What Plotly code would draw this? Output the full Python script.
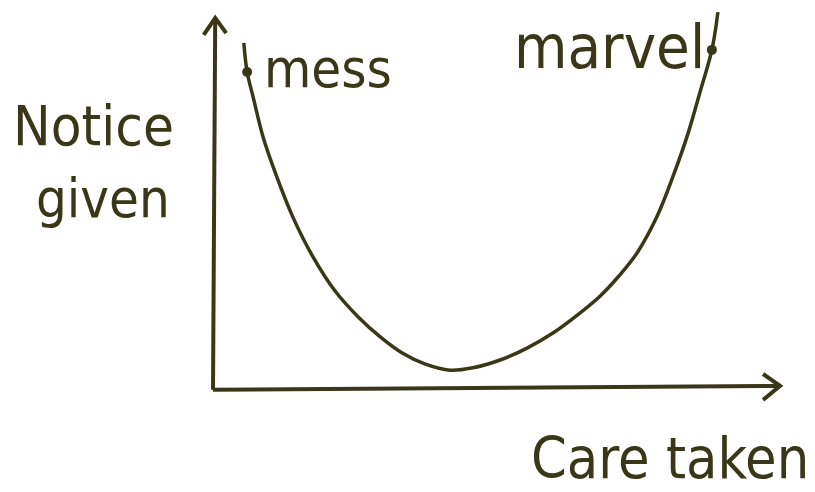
import plotly.graph_objects as go

# Sketch of "notice given" versus "care taken": a U-shaped curve
care_taken = [0.56, 0.62, 0.73, 0.91, 1.16, 1.45, 1.82, 2.22, 2.64, 3.04, 3.44,
              3.85, 4.31, 4.73, 5.22, 5.71, 6.18, 6.67, 7.04, 7.38, 7.71, 8.07,
              8.36, 8.64, 8.85, 9.07, 9.18]
notice_given = [9.86, 9.03, 8.31, 7.17, 6.03, 4.89, 3.74, 2.77, 2.03, 1.46, 1.0,
                0.69, 0.51, 0.58, 0.8, 1.14, 1.57, 2.14, 2.63, 3.2, 3.86, 4.89,
                6.03, 7.29, 8.43, 9.66, 10.74]

# Labelled points on the curve
point_labels = ["mess", "marvel"]
point_care = [0.62, 9.07]
point_notice = [9.03, 9.66]

x_title = "Care taken"
y_title = ["Notice", "given"]

INK = "rgb(58,55,25)"
FONT = "DejaVu Sans Condensed, Liberation Sans Narrow, sans-serif"

X_END = 10.31   # tip of the horizontal arrow
Y_END = 10.57   # tip of the vertical arrow

fig = go.Figure()

# Axis lines with open chevron arrowheads
axis_line = dict(color=INK, width=4)
fig.add_trace(go.Scatter(x=[0, 0.04], y=[-0.05, Y_END], mode="lines",
                         line=axis_line, hoverinfo="skip"))
fig.add_trace(go.Scatter(x=[0.04 - 0.21, 0.04, 0.04 + 0.2],
                         y=[Y_END - 0.48, Y_END, Y_END - 0.43], mode="lines",
                         line=axis_line, hoverinfo="skip"))
fig.add_trace(go.Scatter(x=[0, X_END], y=[-0.05, 0.06], mode="lines",
                         line=axis_line, hoverinfo="skip"))
fig.add_trace(go.Scatter(x=[X_END - 0.31, X_END, X_END - 0.31],
                         y=[0.06 + 0.34, 0.06, 0.06 - 0.4], mode="lines",
                         line=axis_line, hoverinfo="skip"))

# The curve
fig.add_trace(go.Scatter(x=care_taken, y=notice_given, mode="lines",
                         line=dict(color=INK, width=3.5, shape="spline", smoothing=1.0),
                         hoverinfo="skip"))

# Dots on the curve
fig.add_trace(go.Scatter(x=point_care, y=point_notice, mode="markers",
                         marker=dict(color=INK, size=10), hoverinfo="skip"))

# Labels beside the dots
fig.add_annotation(x=0.89, y=9.13, text=point_labels[0],
                   xanchor="left", yanchor="middle", showarrow=False,
                   font=dict(family=FONT, size=54, color=INK))
fig.add_annotation(x=8.98, y=9.77, text=point_labels[1],
                   xanchor="right", yanchor="middle", showarrow=False,
                   font=dict(family=FONT, size=61, color=INK))

# Axis titles
fig.add_annotation(x=-2.18, y=7.51, text=y_title[0],
                   xanchor="center", yanchor="middle", showarrow=False,
                   font=dict(family=FONT, size=56, color=INK))
fig.add_annotation(x=-2.0, y=5.41, text=y_title[1],
                   xanchor="center", yanchor="middle", showarrow=False,
                   font=dict(family=FONT, size=54, color=INK))
fig.add_annotation(x=8.31, y=-2.0, text=x_title,
                   xanchor="center", yanchor="middle", showarrow=False,
                   font=dict(family=FONT, size=57, color=INK))

fig.update_layout(
    width=815, height=492,
    margin=dict(l=0, r=0, t=0, b=0),
    paper_bgcolor="white", plot_bgcolor="white",
    showlegend=False,
    xaxis=dict(range=[-3.873, 10.945], visible=False, fixedrange=True),
    yaxis=dict(range=[-2.971, 11.086], visible=False, fixedrange=True),
)

fig.write_html("out.html")
